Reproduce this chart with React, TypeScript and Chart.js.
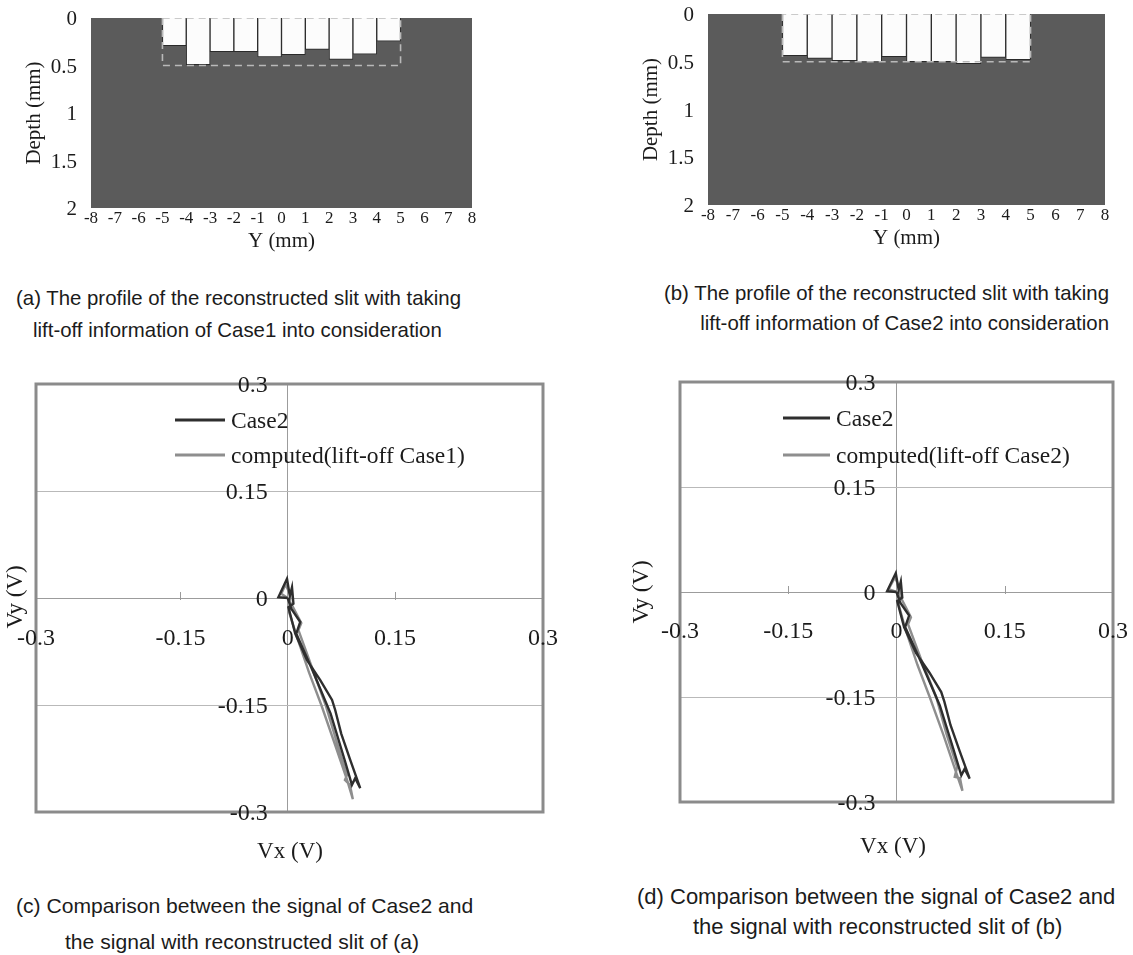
import React, { useEffect, useRef } from "react";
import { Chart, registerables } from "chart.js";

Chart.register(...registerables);

const SERIF = '"Liberation Serif", "Times New Roman", Times, serif';
const SANS = '"Liberation Sans", Arial, Helvetica, sans-serif';
const INK = "#1b1b1b";

// ---------- (a) / (b) reconstructed slit profiles ----------
const slitCentres = [-4.5, -3.5, -2.5, -1.5, -0.5, 0.5, 1.5, 2.5, 3.5, 4.5];
const depthLiftOffCase1 = [0.29, 0.49, 0.355, 0.355, 0.41, 0.385, 0.33, 0.435, 0.38, 0.245];
const depthLiftOffCase2 = [0.437, 0.465, 0.489, 0.503, 0.447, 0.5, 0.5, 0.52, 0.454, 0.478];
const trueSlitY = [-5, -5, 5, 5, -5];
const trueSlitDepth = [0, 0.5, 0.5, 0, 0];
const yMmTicks = [-8, -7, -6, -5, -4, -3, -2, -1, 0, 1, 2, 3, 4, 5, 6, 7, 8];
const depthTicks = [0, 0.5, 1, 1.5, 2];

// ---------- (c) / (d) signals ----------
const case2Vx = [0, -0.013, -0.001, 0.003, 0.006, 0.008, 0.001, 0.0105, 0.027, 0.0455, 0.062, 0.0664, 0.0748, 0.0874, 0.1014, 0.0944, 0.0898, 0.079, 0.06, 0.034, 0.012, 0.0175, 0.005, 0];
const case2Vy = [0, 0.001, 0.027, 0.003, 0.015, -0.008, -0.013, -0.05, -0.087, -0.115, -0.143, -0.157, -0.19, -0.227, -0.2666, -0.2527, -0.262, -0.225, -0.162, -0.1, -0.05, -0.0336, -0.015, 0];
const computed1Vx = [0, -0.009, -0.003, 0.004, 0.002, 0.013, 0.03, 0.047, 0.066, 0.083, 0.0911, 0.087, 0.08, 0.083, 0.068, 0.053, 0.033, 0.015, 0.019, 0.007, 0];
const computed1Vy = [0, 0.006, 0.019, 0.004, -0.02, -0.055, -0.105, -0.15, -0.205, -0.255, -0.282, -0.262, -0.255, -0.248, -0.2, -0.15, -0.095, -0.045, -0.035, -0.012, 0];
const computed2Vx = [0, -0.011, -0.002, 0.005, 0.003, 0.012, 0.029, 0.046, 0.065, 0.082, 0.0914, 0.088, 0.0807, 0.084, 0.069, 0.055, 0.034, 0.016, 0.02, 0.008, 0];
const computed2Vy = [0, 0.004, 0.021, 0.003, -0.018, -0.052, -0.104, -0.15, -0.204, -0.256, -0.284, -0.266, -0.264, -0.25, -0.202, -0.15, -0.096, -0.046, -0.036, -0.012, 0];
const vTicks = [-0.3, -0.15, 0, 0.15, 0.3];
const vxRangeC = [-0.352, 0.357]; // horizontal extent of panel (c) frame
const vxRangeD = [-0.3, 0.3];

function text(ctx: any, str: string, x: number, cy: number, size: number, align: any, family = SERIF, rot = 0) {
  ctx.save();
  ctx.font = `${size}px ${family}`;
  ctx.fillStyle = INK;
  ctx.textAlign = align;
  ctx.textBaseline = "alphabetic";
  ctx.translate(x, cy);
  if (rot) ctx.rotate(rot);
  ctx.fillText(str, 0, size * 0.34);
  ctx.restore();
}

function fixedScale(ticks: number[], extra: any) {
  return {
    type: "linear",
    ...extra,
    ticks: { display: false },
    border: { display: false },
    afterBuildTicks: (s: any) => {
      s.ticks = ticks.map((v) => ({ value: v }));
    },
    afterFit: (s: any) => {
      if (s.isHorizontal()) s.height = 0;
      else s.width = 0;
      s.paddingLeft = s.paddingRight = s.paddingTop = s.paddingBottom = 0;
    },
  };
}

function profileDecor(o: { yGap: number; xDy: number; titleDy: number; depthDx: number }) {
  return {
    id: "profileDecor",
    beforeDraw(chart: any) {
      const { ctx, chartArea: a } = chart;
      ctx.save();
      ctx.fillStyle = "#5b5b5b";
      ctx.fillRect(a.left, a.top, a.right - a.left, a.bottom - a.top);
      ctx.restore();
    },
    afterDraw(chart: any) {
      const { ctx, chartArea: a } = chart;
      const x = chart.scales.x;
      const y = chart.scales.y;
      y.ticks.forEach((t: any) => text(ctx, String(t.value), a.left - o.yGap, y.getPixelForValue(t.value), 21, "right"));
      x.ticks.forEach((t: any) => text(ctx, String(t.value), x.getPixelForValue(t.value), a.bottom + o.xDy, 17, "center"));
      text(ctx, "Y (mm)", (a.left + a.right) / 2, a.bottom + o.titleDy, 21, "center");
      text(ctx, "Depth (mm)", a.left - o.depthDx, (a.top + a.bottom) / 2, 21, "center", SERIF, -Math.PI / 2);
    },
  };
}

function profileConfig(depths: number[], pad: any) {
  return {
    type: "bar",
    data: {
      datasets: [
        {
          type: "line",
          label: "original slit",
          data: trueSlitY.map((v, i) => ({ x: v, y: trueSlitDepth[i] })),
          borderColor: "#b9b9b9",
          borderWidth: 1.6,
          borderDash: [7, 5],
          pointRadius: 0,
          fill: false,
          tension: 0,
          order: 0,
        },
        {
          type: "bar",
          label: "reconstructed slit",
          data: slitCentres.map((v, i) => ({ x: v, y: depths[i] })),
          backgroundColor: "#fcfcfc",
          borderColor: "#2a2a2a",
          borderWidth: 1,
          barPercentage: 1,
          categoryPercentage: 1,
          order: 1,
        },
      ],
    },
    options: {
      responsive: false,
      animation: false,
      devicePixelRatio: 1,
      layout: { padding: pad },
      plugins: { legend: { display: false }, tooltip: { enabled: false } },
      scales: {
        x: fixedScale(yMmTicks, { min: -8, max: 8, offset: false, grid: { display: false } }),
        y: fixedScale(depthTicks, { min: 0, max: 2, reverse: true, grid: { display: false } }),
      },
    },
    plugins: [profileDecor({ yGap: 14, xDy: 9, titleDy: 32, depthDx: 58 })],
  };
}

function signalDecor(o: { legendX: number; lineW: number; legendY: number[]; vx: number[]; vy: number[]; yGap: number; xDy: number }) {
  return {
    id: "signalDecor",
    afterDraw(chart: any) {
      const { ctx, chartArea: a } = chart;
      const x = chart.scales.x;
      const y = chart.scales.y;
      const x0 = x.getPixelForValue(0);
      const y0 = y.getPixelForValue(0);
      ctx.save();
      ctx.strokeStyle = "#9a9a9a";
      ctx.lineWidth = 1;
      x.ticks.forEach((t: any) => {
        if (t.value !== 0 && Math.abs(t.value) < 0.29) {
          const px = Math.round(x.getPixelForValue(t.value)) + 0.5;
          ctx.beginPath();
          ctx.moveTo(px, y0 - 6);
          ctx.lineTo(px, y0 + 2);
          ctx.stroke();
        }
      });
      ctx.strokeStyle = "#8b8b8b";
      ctx.lineWidth = 3;
      ctx.strokeRect(a.left, a.top, a.right - a.left, a.bottom - a.top);
      ctx.restore();
      y.ticks.forEach((t: any) => text(ctx, String(t.value), x0 - o.yGap, y.getPixelForValue(t.value), 24, "right"));
      // outermost labels sit on the frame edges (axis ends)
      x.ticks.forEach((t: any) => {
        const v = t.value;
        const px = Math.abs(v) < 0.29 ? x.getPixelForValue(v) : x.getPixelForValue(v < 0 ? x.min : x.max);
        text(ctx, String(v), px, y0 + o.xDy, 24, "center");
      });
      chart.data.datasets.forEach((ds: any, i: number) => {
        const ly = o.legendY[i];
        ctx.save();
        ctx.strokeStyle = ds.borderColor;
        ctx.lineWidth = 3;
        ctx.beginPath();
        ctx.moveTo(o.legendX, ly);
        ctx.lineTo(o.legendX + o.lineW, ly);
        ctx.stroke();
        ctx.restore();
        text(ctx, ds.label, o.legendX + o.lineW + 6, ly, 23.5, "left");
      });
      text(ctx, "Vx (V)", o.vx[0], o.vx[1], 23, "center");
      text(ctx, "Vy (V)", o.vy[0], o.vy[1], 23, "center", SERIF, -Math.PI / 2);
    },
  };
}

function signalConfig(compLabel: string, compVx: number[], compVy: number[], xRange: number[], pad: any, deco: any) {
  return {
    type: "scatter",
    data: {
      datasets: [
        {
          label: "Case2",
          data: case2Vx.map((v, i) => ({ x: v, y: case2Vy[i] })),
          showLine: true,
          borderColor: "#2e2e2e",
          borderWidth: 2.4,
          pointRadius: 0,
          tension: 0,
        },
        {
          label: compLabel,
          data: compVx.map((v, i) => ({ x: v, y: compVy[i] })),
          showLine: true,
          borderColor: "#8e8e8e",
          borderWidth: 2.4,
          pointRadius: 0,
          tension: 0,
        },
      ],
    },
    options: {
      responsive: false,
      animation: false,
      devicePixelRatio: 1,
      layout: { padding: pad },
      plugins: { legend: { display: false }, tooltip: { enabled: false } },
      scales: {
        x: fixedScale(vTicks, {
          min: xRange[0],
          max: xRange[1],
          grid: {
            drawTicks: false,
            lineWidth: 1,
            color: (c: any) => (c.tick && c.tick.value === 0 ? "#9c9c9c" : "rgba(0,0,0,0)"),
          },
        }),
        y: fixedScale(vTicks, {
          min: -0.3,
          max: 0.3,
          grid: {
            drawTicks: false,
            lineWidth: 1,
            color: (c: any) =>
              !c.tick ? "rgba(0,0,0,0)" : c.tick.value === 0 ? "#9c9c9c" : Math.abs(c.tick.value) < 0.29 ? "#b9b9b9" : "rgba(0,0,0,0)",
          },
        }),
      },
    },
    plugins: [signalDecor(deco)],
  };
}

function ChartBox(props: { left: number; top: number; width: number; height: number; make: () => any }) {
  const ref = useRef<HTMLCanvasElement>(null);
  useEffect(() => {
    const chart = new Chart(ref.current as HTMLCanvasElement, props.make());
    return () => chart.destroy();
  }, []);
  return (
    <canvas
      ref={ref}
      width={props.width}
      height={props.height}
      style={{ position: "absolute", left: props.left, top: props.top, width: props.width, height: props.height, display: "block" }}
    />
  );
}

function Caption(props: { x?: number; right?: number; cy: number; size: number; children: any }) {
  const style: any = {
    position: "absolute",
    top: props.cy - 0.49 * props.size,
    fontFamily: SANS,
    fontSize: props.size,
    lineHeight: 1,
    whiteSpace: "nowrap",
    color: INK,
  };
  if (props.right !== undefined) {
    style.right = 1133 - props.right;
    style.textAlign = "right";
  } else style.left = props.x;
  return <div style={style}>{props.children}</div>;
}

export default function App() {
  return (
    <div style={{ position: "absolute", left: 0, top: 0, width: 1133, height: 955, background: "#fff", overflow: "hidden" }}>
      <ChartBox left={0} top={0} width={560} height={265} make={() => profileConfig(depthLiftOffCase1, { left: 91, top: 18, right: 88, bottom: 57 })} />
      <ChartBox left={565} top={0} width={568} height={265} make={() => profileConfig(depthLiftOffCase2, { left: 143, top: 14, right: 28, bottom: 60 })} />
      <ChartBox
        left={0}
        top={360}
        width={565}
        height={520}
        make={() =>
          signalConfig("computed(lift-off Case1)", computed1Vx, computed1Vy, vxRangeC, { left: 36, top: 24, right: 22, bottom: 68 }, {
            legendX: 175,
            lineW: 50,
            legendY: [60, 95],
            vx: [290, 490],
            vy: [14, 237],
            yGap: 20,
            xDy: 39,
          })
        }
      />
      <ChartBox
        left={565}
        top={360}
        width={568}
        height={520}
        make={() =>
          signalConfig("computed(lift-off Case2)", computed2Vx, computed2Vy, vxRangeD, { left: 115, top: 22, right: 20, bottom: 78 }, {
            legendX: 218,
            lineW: 47,
            legendY: [58, 95],
            vx: [328, 485],
            vy: [75, 232],
            yGap: 21,
            xDy: 38,
          })
        }
      />
      <Caption x={16} cy={298} size={20.4}>(a) The profile of the reconstructed slit with taking</Caption>
      <Caption x={33} cy={330} size={20.4}>lift-off information of Case1 into consideration</Caption>
      <Caption right={1109} cy={293} size={20.4}>(b) The profile of the reconstructed slit with taking</Caption>
      <Caption right={1109} cy={323} size={20.4}>lift-off information of Case2 into consideration</Caption>
      <Caption x={16} cy={905} size={21.1}>(c) Comparison between the signal of Case2 and</Caption>
      <Caption x={65} cy={941} size={21.1}>the signal with reconstructed slit of (a)</Caption>
      <Caption x={637} cy={897} size={22}>(d) Comparison between the signal of Case2 and</Caption>
      <Caption x={693} cy={927} size={22}>the signal with reconstructed slit of (b)</Caption>
    </div>
  );
}
